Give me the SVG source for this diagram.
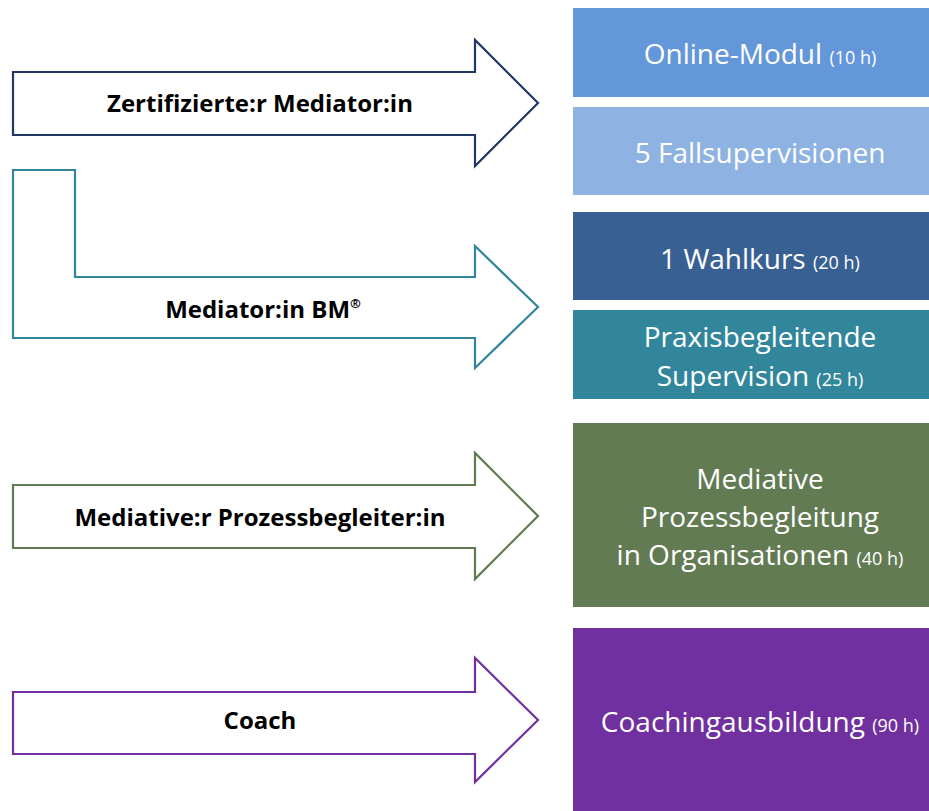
<svg xmlns="http://www.w3.org/2000/svg" width="929" height="811" viewBox="0 0 929 811">
<style>
.arrow{fill:#fff;stroke-width:2.2;stroke-linejoin:miter}
.lbl{font-family:"Open Sans","Liberation Sans",sans-serif;font-weight:bold;font-size:24px;fill:#000;text-anchor:middle}
.box{stroke:none}
.bt{font-family:"Open Sans","Liberation Sans",sans-serif;font-size:28px;fill:#fff;text-anchor:middle}
.sm{font-size:18px}
</style>
<rect width="929" height="811" fill="#fff"/>
<g id="connectors">
<g id="arrow-zert">
<path class="arrow" stroke="#1F3864" d="M13,72 H475 V40 L538,103 L475,166 V135 H13 Z"/>
<text class="lbl" x="260" y="112">Zertifizierte:r Mediator:in</text>
</g>
<g id="arrow-bm">
<path class="arrow" stroke="#31849B" d="M13,170 H75 V277 H475 V246 L538,307 L475,368 V338 H13 Z"/>
<text class="lbl" x="263" y="318">Mediator:in BM<tspan font-size="13" dy="-10">®</tspan></text>
</g>
<g id="arrow-proz">
<path class="arrow" stroke="#5F7B4F" d="M13,485 H475 V453 L538,516 L475,579 V548 H13 Z"/>
<text class="lbl" x="260" y="526">Mediative:r Prozessbegleiter:in</text>
</g>
<g id="arrow-coach">
<path class="arrow" stroke="#7030A0" d="M13,692 H475 V658 L538,720 L475,782 V754 H13 Z"/>
<text class="lbl" x="260" y="729">Coach</text>
</g>
</g>
<g id="box-online">
<rect class="box" x="573" y="8" width="360" height="89" fill="#6497D9"/>
<text class="bt" x="760" y="64">Online-Modul <tspan class="sm">(10 h)</tspan></text>
</g>
<g id="box-fall">
<rect class="box" x="573" y="107" width="360" height="88" fill="#8EB3E3"/>
<text class="bt" x="760" y="163">5 Fallsupervisionen</text>
</g>
<g id="box-wahl">
<rect class="box" x="573" y="212" width="360" height="88" fill="#386093"/>
<text class="bt" x="760" y="269">1 Wahlkurs <tspan class="sm">(20 h)</tspan></text>
</g>
<g id="box-praxis">
<rect class="box" x="573" y="310" width="360" height="89" fill="#31869B"/>
<text class="bt" x="760" y="347">Praxisbegleitende</text>
<text class="bt" x="760" y="386">Supervision <tspan class="sm">(25 h)</tspan></text>
</g>
<g id="box-mediative">
<rect class="box" x="573" y="423" width="360" height="184" fill="#627B53"/>
<text class="bt" x="760" y="489">Mediative</text>
<text class="bt" x="760" y="527">Prozessbegleitung</text>
<text class="bt" x="760" y="565">in Organisationen <tspan class="sm">(40 h)</tspan></text>
</g>
<g id="box-coaching">
<rect class="box" x="573" y="628" width="360" height="183" fill="#7030A0"/>
<text class="bt" x="760" y="732">Coachingausbildung <tspan class="sm">(90 h)</tspan></text>
</g>
</svg>
